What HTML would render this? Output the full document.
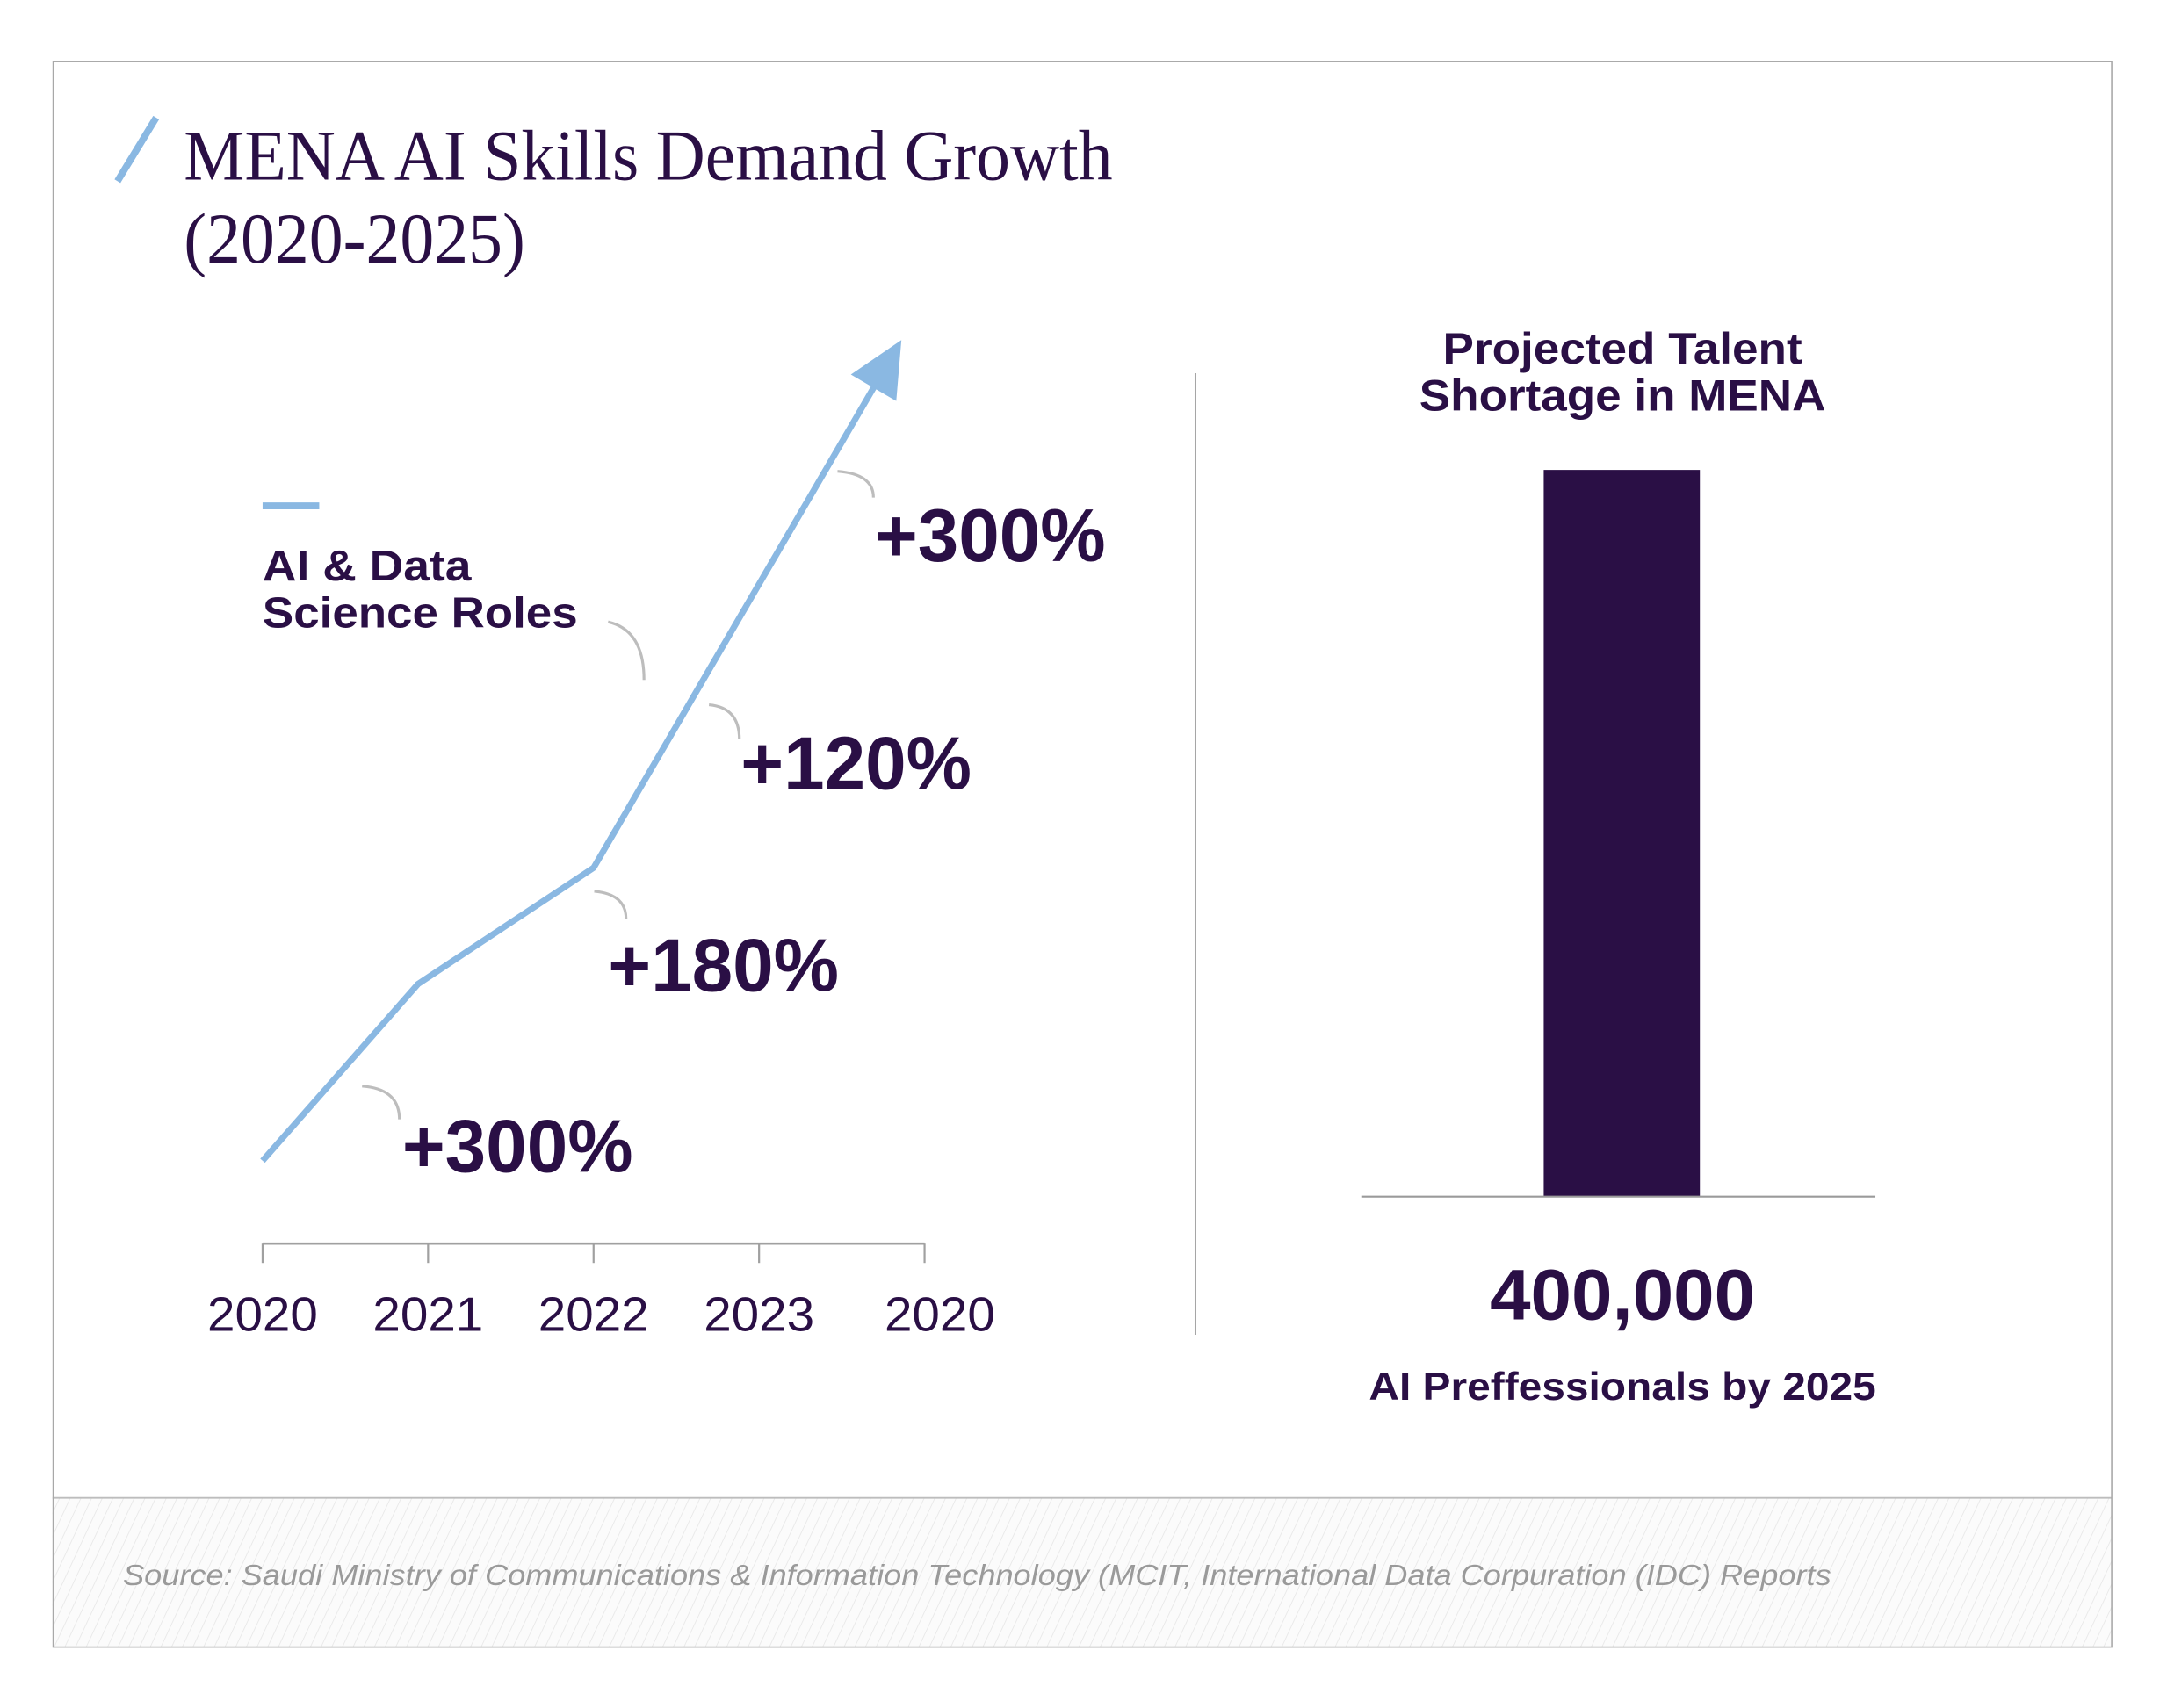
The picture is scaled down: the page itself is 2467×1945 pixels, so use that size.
<!DOCTYPE html>
<html><head><meta charset="utf-8">
<style>
html,body{margin:0;padding:0;background:#fff;}
svg{display:block;}
.sans{font-family:"Liberation Sans",sans-serif;}
</style></head>
<body>
<svg id="chart" width="2467" height="1945" viewBox="0 0 1568 1236" xmlns="http://www.w3.org/2000/svg">
  <defs>
    <pattern id="hatch" patternUnits="userSpaceOnUse" width="7" height="7" patternTransform="rotate(25)">
      <rect width="7" height="7" fill="#fbfbfb"/>
      <line x1="0" y1="0" x2="0" y2="7" stroke="#e6e6e6" stroke-width="1"/>
    </pattern>
  </defs>
  <rect x="38" y="44" width="1490" height="1148" fill="#fff"/>
  <rect x="38" y="1084" width="1490" height="108" fill="url(#hatch)"/>
  <line x1="38" y1="1084" x2="1528" y2="1084" stroke="#bdbdbd" stroke-width="1.2"/>
  <rect x="38.5" y="44.5" width="1489.5" height="1147.5" fill="none" stroke="#a8a8a8" stroke-width="1"/>

  <line x1="85" y1="131" x2="113" y2="85" stroke="#8ab8e2" stroke-width="5"/>
  <text x="133" y="130" font-family="'Liberation Serif',serif" font-size="52" fill="#2a0f45" textLength="672" lengthAdjust="spacingAndGlyphs">MENA AI Skills Demand Growth</text>
  <text x="133" y="190" font-family="'Liberation Serif',serif" font-size="52" fill="#2a0f45" textLength="247" lengthAdjust="spacingAndGlyphs">(2020-2025)</text>

  <line x1="190" y1="366" x2="231" y2="366" stroke="#8ab8e2" stroke-width="5"/>
  <text x="190" y="420" class="sans" font-weight="bold" font-size="31" fill="#2a0f45" textLength="151" lengthAdjust="spacingAndGlyphs">AI &amp; Data</text>
  <text x="190" y="454" class="sans" font-weight="bold" font-size="31" fill="#2a0f45" textLength="228" lengthAdjust="spacingAndGlyphs">Science Roles</text>

  <g id="line-chart"></g>

  <line x1="865" y1="270" x2="865" y2="966" stroke="#9a9a9a" stroke-width="1.2"/>

  <text x="1174" y="263" class="sans" font-weight="bold" font-size="32" fill="#2a0f45" text-anchor="middle" textLength="260" lengthAdjust="spacingAndGlyphs">Projected Talent</text>
  <text x="1174" y="297" class="sans" font-weight="bold" font-size="32" fill="#2a0f45" text-anchor="middle" textLength="294" lengthAdjust="spacingAndGlyphs">Shortage in MENA</text>
  <g id="bar-chart"></g>
  <text x="1174" y="1013" class="sans" font-weight="bold" font-size="28" fill="#2a0f45" text-anchor="middle" textLength="367" lengthAdjust="spacingAndGlyphs">AI Preffessionals by 2025</text>

  <text x="89" y="1147" class="sans" font-style="italic" font-size="21" fill="#9a9a9a" textLength="1236" lengthAdjust="spacingAndGlyphs">Source: Saudi Ministry of Communications &amp; Information Technology (MCIT, International Data Corpuration (IDC) Reports</text>
</svg>
<script>
const NS = "http://www.w3.org/2000/svg";
// Line chart data
const years = [2020, 2020.94, 2022, 2023.86];
const demandIndex = [60, 188, 272, 654];
const tickYears = [2020, 2021, 2022, 2023, 2024];
const tickLabels = ["2020", "2021", "2022", "2023", "2020"];
const growthLabels = ["+300%", "+180%", "+120%", "+300%"];
// Bar chart data
const barCategories = ["AI Professionals by 2025"];
const barValues = [400000];
const barValueLabels = ["400,000"];

function xScale(y){ return 190 + (y - 2020) * 119.75; }
function yScale(v){ return 900 - v; }
function barY(v){ return 866 - v / 400000 * 526; }

function mk(tag, attrs, parent){
  const el = document.createElementNS(NS, tag);
  for (const k in attrs) el.setAttribute(k, attrs[k]);
  parent.appendChild(el);
  return el;
}

const lc = document.getElementById('line-chart');
const axis = mk('line', {x1: xScale(2020), y1: 900, x2: xScale(2024), y2: 900, stroke: '#a0a0a0', 'stroke-width': 1.6}, lc);


tickYears.forEach((t, i) => {
  const x = xScale(t);
  const tk = mk('line', {x1: x, y1: 900, x2: x, y2: 914, stroke: '#a0a0a0', 'stroke-width': 1.4}, lc);
  
  
  const lb = mk('text', {x: x + (i === 4 ? 11 : 0), y: 963, 'text-anchor': 'middle', 'font-family': '"Liberation Sans",sans-serif', 'font-size': 35, fill: '#2a0f45', textLength: 80, lengthAdjust: 'spacingAndGlyphs'}, lc);
  lb.textContent = tickLabels[i];
  
  
});
const pts = years.map((y, i) => [xScale(y), yScale(demandIndex[i])]);
const n = pts.length;
const tip = pts[n - 1], prev = pts[n - 2];
const dx = tip[0] - prev[0], dy = tip[1] - prev[1];
const len = Math.hypot(dx, dy), ux = dx / len, uy = dy / len;
const headLen = 40, headW = 19;
const base = [tip[0] - ux * headLen, tip[1] - uy * headLen];
const linePts = pts.slice(0, n - 1).concat([[tip[0] - ux * (headLen - 4), tip[1] - uy * (headLen - 4)]]);
const pl = mk('polyline', {points: linePts.map(p => p.join(',')).join(' '), fill: 'none', stroke: '#8ab8e2', 'stroke-width': 4.5, 'stroke-linejoin': 'round'}, lc);


const ah = mk('polygon', {points: [tip, [base[0] - uy * headW, base[1] + ux * headW], [base[0] + uy * headW, base[1] - ux * headW]].map(p => p.join(',')).join(' '), fill: '#8ab8e2'}, lc);



const annX = [291, 440, 536, 633];
const annY = [848, 717, 571, 406];
const hooks = [[262,786,289,810],[430,645,453,665],[513,510,535,535],[606,341,632,360]];
growthLabels.forEach((g, i) => {
  const t = mk('text', {x: annX[i], y: annY[i], 'font-family': '"Liberation Sans",sans-serif', 'font-weight': 'bold', 'font-size': 54, fill: '#2a0f45', textLength: 167, lengthAdjust: 'spacingAndGlyphs'}, lc);
  t.textContent = g;
  
  
  const h = hooks[i];
  const hp = mk('path', {d: `M${h[0]},${h[1]} Q${h[2]},${h[1]+2} ${h[2]},${h[3]}`, fill: 'none', stroke: '#bdbdbd', 'stroke-width': 2}, lc);
  
  
});
const lh = mk('path', {d: 'M440,450 Q466,456 466,492', fill: 'none', stroke: '#bdbdbd', 'stroke-width': 2}, lc);



const bc = document.getElementById('bar-chart');
barValues.forEach((v, i) => {
  const r = mk('rect', {x: 1117, y: barY(v), width: 113, height: 866 - barY(v), fill: '#2a0f45'}, bc);
  
  
  const t = mk('text', {x: 1174, y: 955, 'text-anchor': 'middle', 'font-family': '"Liberation Sans",sans-serif', 'font-weight': 'bold', 'font-size': 52, fill: '#2a0f45', textLength: 192, lengthAdjust: 'spacingAndGlyphs'}, bc);
  t.textContent = barValueLabels[i];
  
  
});
const bl = mk('line', {x1: 985, y1: 866, x2: 1357, y2: 866, stroke: '#9a9a9a', 'stroke-width': 1.4}, bc);


</script>
</body></html>
